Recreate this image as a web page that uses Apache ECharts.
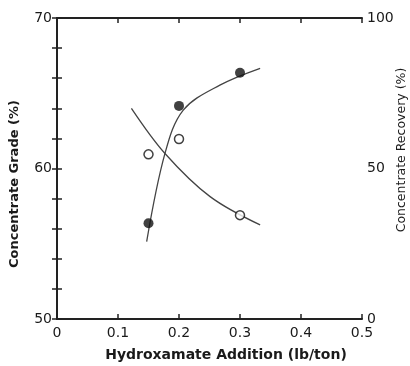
<!DOCTYPE html>
<html>
<head>
<meta charset="utf-8">
<script src="https://cdn.jsdelivr.net/npm/echarts@6/dist/echarts.min.js"></script>
<style>
html,body{margin:0;padding:0;background:#fff;}
#c{width:410px;height:366px;}
</style>
</head>
<body>
<div id="c"></div>
<script>
// Data
var xTicks = [0, 0.1, 0.2, 0.3, 0.4, 0.5];
var gradeTickLabels = [50, 60, 70];
var recoveryTickLabels = [0, 50, 100];

// Recovery (filled markers, right axis)
var recoveryX = [0.15, 0.20, 0.30];
var recoveryY = [31.8, 70.8, 81.8];
var recoveryCurveX = [0.147, 0.177, 0.207, 0.267, 0.333];
var recoveryCurveY = [25.7, 55.0, 69.4, 77.7, 83.3];

// Grade (open markers, left axis)
var gradeX = [0.15, 0.20, 0.30];
var gradeY = [60.94, 61.96, 56.9];
var gradeCurveX = [0.122, 0.177, 0.251, 0.333];
var gradeCurveY = [64.0, 61.0, 58.13, 56.25];

function zip(a, b) { return a.map(function (v, i) { return [v, b[i]]; }); }

var FONT = 'DejaVu Sans';
var TXT = '#1a1a1a';
var chart = echarts.init(document.getElementById('c'), null, {renderer: 'canvas'});
var axisLine = {show: true, lineStyle: {color: '#222', width: 2}};
var tick = {show: true, inside: true, length: 5, lineStyle: {color: '#222', width: 1.5}};

chart.setOption({
  animation: false,
  backgroundColor: '#fff',
  grid: {left: 57, right: 48, top: 18, bottom: 47},
  xAxis: [{
    type: 'value', min: 0, max: 0.5, interval: 0.1, position: 'bottom',
    axisLine: axisLine, axisTick: tick, splitLine: {show: false},
    axisLabel: {
      color: TXT, fontFamily: FONT, fontSize: 14, margin: 7,
      formatter: function (v) {
        for (var i = 0; i < xTicks.length; i++) {
          if (Math.abs(v - xTicks[i]) < 1e-6) return xTicks[i] === 0 ? '0' : xTicks[i].toFixed(1);
        }
        return '';
      }
    }
  }, {
    type: 'value', min: 0, max: 0.5, interval: 0.1, position: 'top',
    axisLine: axisLine, axisTick: tick, axisLabel: {show: false}, splitLine: {show: false}
  }],
  yAxis: [{
    type: 'value', min: 50, max: 70, interval: 2, position: 'left',
    axisLine: axisLine, axisTick: tick, splitLine: {show: false},
    axisLabel: {
      color: TXT, fontFamily: FONT, fontSize: 14, margin: 5,
      formatter: function (v) { return gradeTickLabels.indexOf(Math.round(v)) >= 0 && Math.abs(v - Math.round(v)) < 1e-6 ? String(Math.round(v)) : ''; }
    }
  }, {
    type: 'value', min: 0, max: 100, interval: 10, position: 'right',
    axisLine: axisLine, axisTick: tick, splitLine: {show: false},
    axisLabel: {
      color: TXT, fontFamily: FONT, fontSize: 14, margin: 5,
      formatter: function (v) { return recoveryTickLabels.indexOf(Math.round(v)) >= 0 ? String(Math.round(v)) : ''; }
    }
  }],
  graphic: [
    {type: 'text', x: 226, y: 355,
      style: {text: 'Hydroxamate Addition (lb/ton)', fill: TXT, font: 'bold 14px "DejaVu Sans"', align: 'center', verticalAlign: 'middle'}},
    {type: 'text', x: 15, y: 184, rotation: Math.PI / 2,
      style: {text: 'Concentrate Grade (%)', fill: TXT, font: 'bold 13px "DejaVu Sans"', align: 'center', verticalAlign: 'middle'}},
    {type: 'text', x: 402, y: 150, rotation: Math.PI / 2,
      style: {text: 'Concentrate Recovery (%)', fill: TXT, font: '12.5px "DejaVu Sans"', align: 'center', verticalAlign: 'middle'}}
  ],
  series: [
    {type: 'line', xAxisIndex: 0, yAxisIndex: 1, data: zip(recoveryCurveX, recoveryCurveY),
      smooth: 0.35, showSymbol: false, lineStyle: {color: '#444', width: 1.3}},
    {type: 'line', xAxisIndex: 0, yAxisIndex: 0, data: zip(gradeCurveX, gradeCurveY),
      smooth: 0.35, showSymbol: false, lineStyle: {color: '#444', width: 1.3}},
    {type: 'scatter', xAxisIndex: 0, yAxisIndex: 1, data: zip(recoveryX, recoveryY),
      symbol: 'circle', symbolSize: 10, itemStyle: {color: '#111'}, z: 5},
    {type: 'scatter', xAxisIndex: 0, yAxisIndex: 0, data: zip(gradeX, gradeY),
      symbol: 'circle', symbolSize: 9, itemStyle: {color: '#fff', borderColor: '#111', borderWidth: 1.5}, z: 5}
  ]
});
</script>
</body>
</html>
